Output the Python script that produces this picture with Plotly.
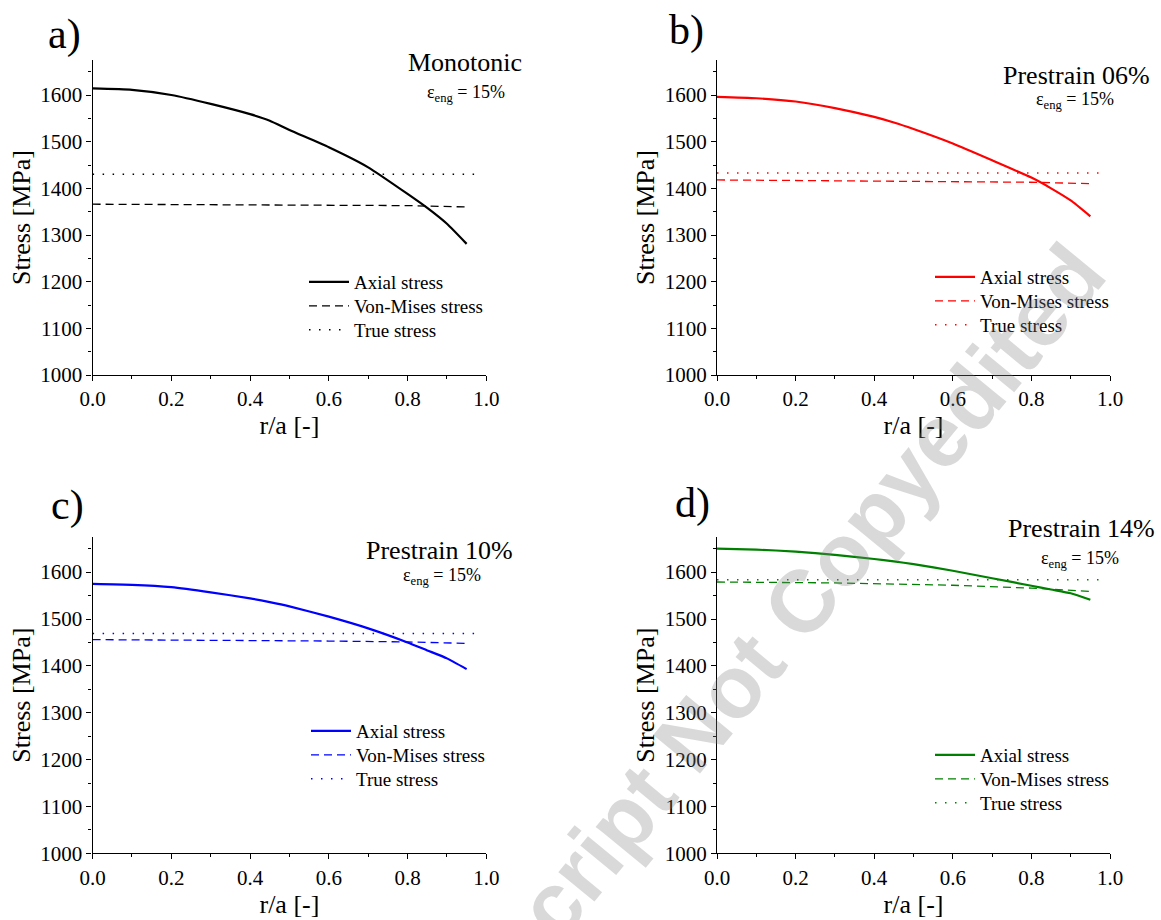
import plotly.graph_objects as go

# ---------------- data ----------------
r_axial = [0.0, 0.1, 0.2, 0.3, 0.4, 0.45, 0.5, 0.6, 0.7, 0.8, 0.85, 0.9, 0.95]
r_vm = [0.0, 0.3, 0.6, 0.8, 0.95]
r_true = [0.0, 0.98]

axial_mono = [1614, 1611, 1600, 1581, 1559, 1545, 1525, 1488, 1445, 1388, 1358, 1324, 1281]
axial_06 = [1596, 1593, 1586, 1572, 1553, 1541, 1527, 1496, 1460, 1423, 1400, 1374, 1340]
axial_10 = [1575, 1573, 1568, 1557, 1544, 1536, 1527, 1505, 1480, 1450, 1433, 1416, 1393]
axial_14 = [1650, 1648, 1644, 1637, 1628, 1623, 1617, 1603, 1587, 1571, 1563, 1555, 1541]

vm_mono = [1366, 1365, 1365, 1363, 1360]
vm_06 = [1418, 1416, 1415, 1413, 1410]
vm_10 = [1456, 1455, 1453, 1451, 1448]
vm_14 = [1579, 1577, 1572, 1566, 1559]

true_mono = [1430, 1430]
true_06 = [1433, 1433]
true_10 = [1469, 1469]
true_14 = [1584, 1584]

panel_letters = ["a)", "b)", "c)", "d)"]
panel_titles = ["Monotonic", "Prestrain 06%", "Prestrain 10%", "Prestrain 14%"]
strain_label = "ε<sub>eng</sub> = 15%"
series_names = ["Axial stress", "Von-Mises stress", "True stress"]
colors = ["#000000", "#ff0000", "#0000ff", "#008000"]
x_ticks = [0.0, 0.2, 0.4, 0.6, 0.8, 1.0]
x_ticktext = ["0.0", "0.2", "0.4", "0.6", "0.8", "1.0"]

axials = [axial_mono, axial_06, axial_10, axial_14]
vms = [vm_mono, vm_06, vm_10, vm_14]
trues = [true_mono, true_06, true_10, true_14]

# ---------------- layout geometry ----------------
W, H = 1161, 920
FONT = "Liberation Serif, Times New Roman, serif"

def px_x(v):
    return v / W

def px_y(v):
    return 1 - v / H

x_doms = [[px_x(92.6), px_x(486.3)], [px_x(717), px_x(1110)],
          [px_x(92.6), px_x(486.3)], [px_x(717), px_x(1110)]]
y_doms = [[px_y(375), px_y(60)], [px_y(375), px_y(60)],
          [px_y(853.3), px_y(537)], [px_y(853.3), px_y(537)]]

legend_x = [304, 930, 306, 930]
legend_rows = [(283, 307, 331), (278, 302, 326), (732, 756, 780), (756, 780, 804)]
letter_pos = [(64, 34), (686, 30), (67, 505), (692, 503)]
title_pos = [(465, 63), (1076, 75), (439, 550), (1081, 528)]
strain_pos = [(466, 93), (1075, 101), (442, 576), (1080, 559)]

fig = go.Figure()

layout = dict(
    width=W, height=H,
    margin=dict(l=0, r=0, t=0, b=0),
    paper_bgcolor="white", plot_bgcolor="white",
    font=dict(family=FONT, color="black", size=20),
    showlegend=True,
)

for i in range(4):
    sfx = "" if i == 0 else str(i + 1)
    xa, ya = "x" + sfx, "y" + sfx
    c = colors[i]
    specs = [
        (r_axial, axials[i], dict(color=c, width=2.2, shape="spline", smoothing=0.5)),
        (r_vm, vms[i], dict(color=c, width=1.3, dash="8px,5px")),
        (r_true, trues[i], dict(color=c, width=1.5, dash="1.5px,8.5px")),
    ]
    for j, (xs, ys, ln) in enumerate(specs):
        k = i * 3 + j
        leg = "legend" if k == 0 else "legend" + str(k + 1)
        fig.add_trace(go.Scatter(x=xs, y=ys, mode="lines", name=series_names[j],
                                 line=ln, xaxis=xa, yaxis=ya, legend=leg, showlegend=True))
        layout[leg] = dict(
            x=px_x(legend_x[i]), y=px_y(legend_rows[i][j] - 20), xanchor="left", yanchor="top",
            bgcolor="rgba(0,0,0,0)", borderwidth=0, itemwidth=40, visible=True,
            font=dict(family=FONT, size=19, color="black"),
        )

for i in range(4):
    sfx = "" if i == 0 else str(i + 1)
    layout["xaxis" + sfx] = dict(
        domain=x_doms[i], anchor="y" + sfx, range=[0, 1],
        tickvals=x_ticks, ticktext=x_ticktext,
        ticks="outside", ticklen=5, tickwidth=1.2, tickcolor="black",
        minor=dict(dtick=0.1, tick0=0, ticks="outside", ticklen=3, tickwidth=1.2, tickcolor="black"),
        showline=True, linecolor="black", linewidth=1.3,
        showgrid=False, zeroline=False,
        tickfont=dict(family=FONT, size=21, color="black"),
        title=dict(text="r/a [-]", font=dict(family=FONT, size=26, color="black"), standoff=0),
        automargin=False,
    )
    layout["yaxis" + sfx] = dict(
        domain=y_doms[i], anchor="x" + sfx, range=[1000, 1675],
        tick0=1000, dtick=100,
        ticks="outside", ticklen=5, tickwidth=1.2, tickcolor="black",
        minor=dict(dtick=50, tick0=1000, ticks="outside", ticklen=3, tickwidth=1.2, tickcolor="black"),
        showline=True, linecolor="black", linewidth=1.3,
        showgrid=False, zeroline=False,
        tickfont=dict(family=FONT, size=21, color="black"),
        title=dict(text="Stress [MPa]", font=dict(family=FONT, size=26, color="black"), standoff=2),
        automargin=False,
    )

annotations = []
for i in range(4):
    x, y = letter_pos[i]
    annotations.append(dict(text=panel_letters[i], x=px_x(x), y=px_y(y), xref="paper", yref="paper",
                            showarrow=False, xanchor="center", yanchor="middle",
                            font=dict(family=FONT, size=42, color="black")))
    x, y = title_pos[i]
    annotations.append(dict(text=panel_titles[i], x=px_x(x), y=px_y(y), xref="paper", yref="paper",
                            showarrow=False, xanchor="center", yanchor="middle",
                            font=dict(family=FONT, size=26, color="black")))
    x, y = strain_pos[i]
    annotations.append(dict(text=strain_label, x=px_x(x), y=px_y(y), xref="paper", yref="paper",
                            showarrow=False, xanchor="center", yanchor="middle",
                            font=dict(family=FONT, size=18, color="black")))

# watermark
annotations.append(dict(text="<b>Manuscript Not Copyedited</b>", x=px_x(722), y=px_y(698),
                        xref="paper", yref="paper", showarrow=False, textangle=-50.5,
                        xanchor="center", yanchor="middle",
                        font=dict(family="Liberation Sans, Arial, sans-serif", size=88,
                                  color="rgba(130,130,130,0.30)")))

layout["annotations"] = annotations
fig.update_layout(**layout)

fig.write_html("out.html")
